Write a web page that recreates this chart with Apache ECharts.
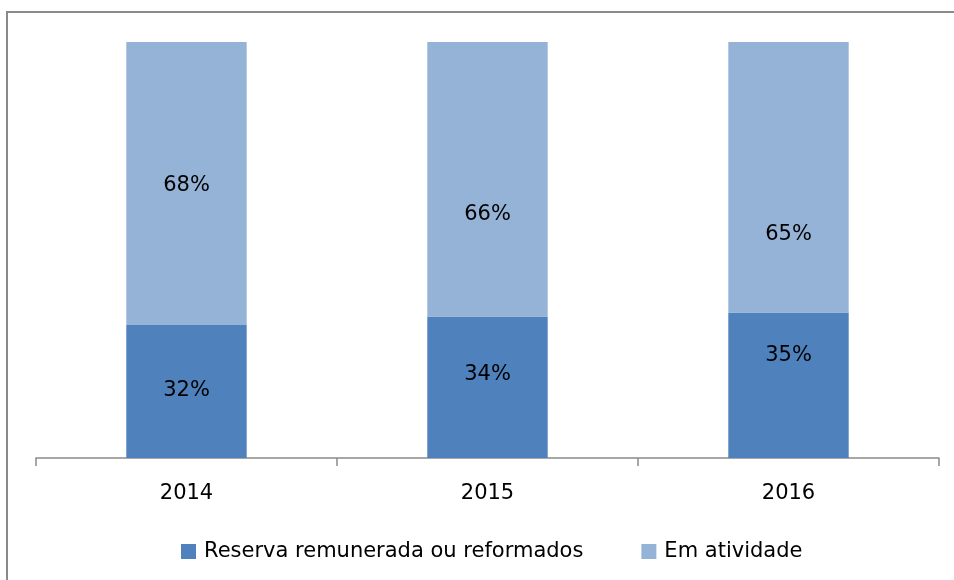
<!DOCTYPE html>
<html><head><meta charset="utf-8">
<script src="https://cdn.jsdelivr.net/npm/echarts@6/dist/echarts.min.js"></script>
<style>html,body{margin:0;padding:0;background:#fff}#c{width:954px;height:580px}</style>
</head><body><div id="c"></div>
<script>
const categories = ['2014', '2015', '2016'];
const reserva = [32, 34, 35];
const atividade = [68, 66, 65];
const seriesNames = ['Reserva remunerada ou reformados', 'Em atividade'];
// vertical nudges of the data labels (px), as placed in the original
const reservaLabelShift = [-1, -13, -30];
const atividadeLabelShift = [2, 35, 57];
const FONT = 'DejaVu Sans';
const chart = echarts.init(document.getElementById('c'));
const lbl = {show: true, position: 'inside', formatter: '{c}%', color: '#000', fontFamily: FONT, fontSize: 21};
const withShift = (vals, shifts) => vals.map((v, i) => ({value: v, label: {offset: [0, shifts[i]]}}));
chart.setOption({
  animation: false,
  graphic: [{type: 'rect', shape: {x: 7, y: 12, width: 960, height: 600}, style: {fill: 'none', stroke: '#8a8a8a', lineWidth: 2}, silent: true}],
  grid: {left: 36, right: 15, top: 42, bottom: 122},
  legend: {top: 536, left: 176, itemWidth: 15, itemHeight: 15, itemGap: 58, icon: 'rect',
    textStyle: {fontFamily: FONT, fontSize: 21, color: '#000', padding: [0, 0, 0, 3]}, data: seriesNames},
  xAxis: {type: 'category', data: categories,
    axisLine: {lineStyle: {color: '#8a8a8a', width: 1.5}},
    axisTick: {show: true, length: 8, lineStyle: {color: '#8a8a8a', width: 1.5}},
    axisLabel: {color: '#000', fontFamily: FONT, fontSize: 21, margin: 25}},
  yAxis: {type: 'value', min: 0, max: 100, show: false, splitLine: {show: false}},
  series: [
    {name: seriesNames[0], type: 'bar', stack: 's', data: withShift(reserva, reservaLabelShift), barWidth: '40%', itemStyle: {color: '#4F81BD'}, label: lbl},
    {name: seriesNames[1], type: 'bar', stack: 's', data: withShift(atividade, atividadeLabelShift), barWidth: '40%', itemStyle: {color: '#95B3D7'}, label: lbl}
  ]
});
</script></body></html>
